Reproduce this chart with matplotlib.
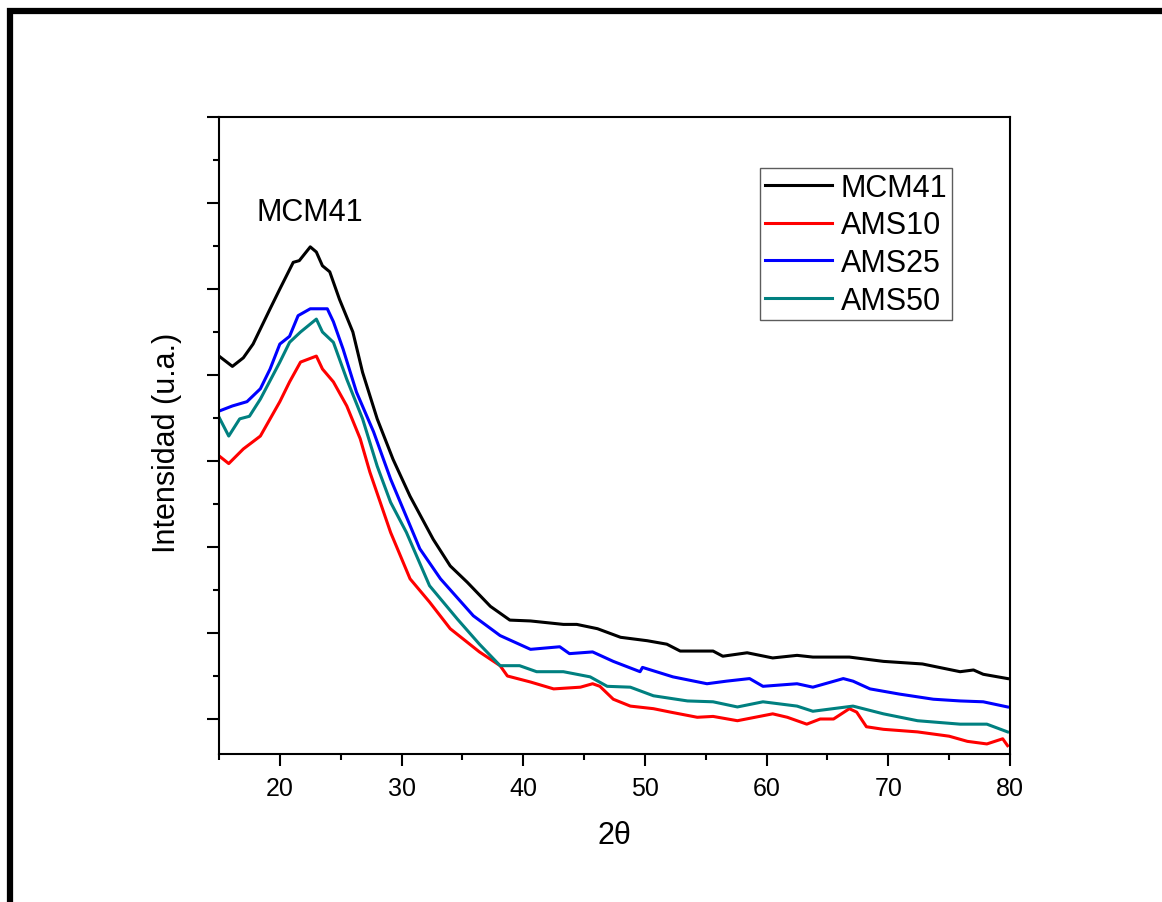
import matplotlib
matplotlib.use("Agg")
import matplotlib.pyplot as plt
from matplotlib.patches import Rectangle
from matplotlib.ticker import MultipleLocator, NullFormatter

plt.rcParams['font.family'] = ['Liberation Sans', 'DejaVu Sans']

# 2theta / intensity (a.u.)
x_mcm41 = [15.0, 16.1, 17.0, 17.8, 19.2, 20.0, 21.1, 21.6, 22.5, 23.0, 23.5, 24.1, 24.9,
           26.0, 26.8, 28.0, 29.3, 30.7, 32.6, 34.0, 35.4, 37.3, 38.9, 40.6, 43.3, 44.4,
           46.1, 48.0, 50.2, 51.8, 52.9, 55.6, 56.4, 58.4, 60.5, 62.5, 63.8, 66.8, 69.6,
           72.8, 75.9, 77.0, 77.8, 79.8]
y_mcm41 = [4.22, 4.10, 4.20, 4.36, 4.77, 5.00, 5.31, 5.33, 5.49, 5.43, 5.27, 5.20, 4.88,
           4.50, 4.03, 3.49, 3.02, 2.59, 2.09, 1.78, 1.59, 1.31, 1.15, 1.14, 1.10, 1.10,
           1.05, 0.95, 0.91, 0.87, 0.79, 0.79, 0.73, 0.77, 0.71, 0.74, 0.72, 0.72, 0.67,
           0.64, 0.55, 0.57, 0.52, 0.47]

x_ams10 = [15.0, 15.8, 17.0, 18.4, 19.2, 20.0, 20.8, 21.7, 23.0, 23.5, 24.4, 25.5, 26.6,
           27.4, 29.1, 30.7, 32.3, 34.0, 36.4, 38.1, 38.7, 40.6, 42.5, 44.7, 45.7, 46.3,
           47.4, 48.8, 50.7, 52.1, 54.3, 55.6, 57.6, 60.5, 61.7, 63.3, 64.4, 65.5, 66.8,
           67.4, 68.2, 69.6, 72.4, 75.0, 76.5, 78.1, 79.4, 79.8]
y_ams10 = [3.06, 2.97, 3.14, 3.29, 3.49, 3.69, 3.92, 4.15, 4.22, 4.07, 3.92, 3.64, 3.26,
           2.87, 2.17, 1.63, 1.36, 1.05, 0.78, 0.62, 0.50, 0.43, 0.35, 0.37, 0.41, 0.38,
           0.23, 0.15, 0.12, 0.08, 0.02, 0.03, -0.02, 0.06, 0.02, -0.06, 0.00, 0.00, 0.12,
           0.08, -0.09, -0.12, -0.15, -0.20, -0.26, -0.29, -0.23, -0.31]

x_ams25 = [15.0, 16.1, 17.3, 18.4, 19.2, 20.0, 20.8, 21.5, 22.5, 23.9, 24.4, 25.2, 26.3,
           27.7, 29.1, 31.5, 33.2, 35.9, 38.1, 40.6, 43.0, 43.8, 45.7, 47.4, 49.6, 49.8,
           52.3, 55.1, 56.7, 58.6, 59.7, 62.5, 63.8, 66.3, 67.1, 68.5, 70.9, 73.7, 75.9,
           77.8, 79.8]
y_ams25 = [3.58, 3.64, 3.69, 3.84, 4.07, 4.36, 4.45, 4.69, 4.77, 4.77, 4.62, 4.30, 3.80,
           3.34, 2.79, 1.98, 1.63, 1.20, 0.97, 0.81, 0.84, 0.76, 0.78, 0.67, 0.55, 0.60,
           0.49, 0.41, 0.44, 0.47, 0.38, 0.41, 0.37, 0.47, 0.44, 0.35, 0.29, 0.23, 0.21,
           0.20, 0.14]

x_ams50 = [15.0, 15.8, 16.7, 17.5, 18.4, 20.0, 20.8, 21.7, 23.0, 23.5, 24.4, 25.5, 26.8,
           28.0, 29.1, 30.4, 32.3, 34.6, 36.4, 38.1, 39.7, 41.1, 43.3, 45.5, 46.9, 48.8,
           50.7, 53.5, 55.6, 57.6, 59.7, 62.5, 63.8, 67.1, 69.6, 72.4, 75.9, 78.1, 79.8]
y_ams50 = [3.51, 3.29, 3.49, 3.52, 3.72, 4.15, 4.38, 4.50, 4.65, 4.50, 4.38, 3.95, 3.49,
           2.94, 2.52, 2.17, 1.55, 1.16, 0.87, 0.62, 0.62, 0.55, 0.55, 0.49, 0.38, 0.37,
           0.27, 0.21, 0.20, 0.14, 0.20, 0.15, 0.09, 0.15, 0.06, -0.02, -0.06, -0.06, -0.15]

series = [
    ("MCM41", x_mcm41, y_mcm41, "black"),
    ("AMS10", x_ams10, y_ams10, "#ff0000"),
    ("AMS25", x_ams25, y_ams25, "#0000ff"),
    ("AMS50", x_ams50, y_ams50, "#008080"),
]

fig = plt.figure(figsize=(11.62, 9.03), dpi=100)
W, H = 1162, 903

# thick page frame, only left and top visible
fig.patches.append(Rectangle((10 / W, -0.5), 2, 1.5 - 12 / H, transform=fig.transFigure,
                             fill=False, edgecolor="black", linewidth=4.5))

ax = fig.add_axes([219 / W, 1 - 755 / H, 791 / W, 637 / H])

for name, xs, ys, c in series:
    ax.plot(xs, ys, color=c, lw=2.2, label=name)

ax.set_xlim(15, 80)
ax.set_ylim(-0.407, 7.0)
ax.xaxis.set_major_locator(MultipleLocator(10))
ax.xaxis.set_minor_locator(MultipleLocator(5))
ax.yaxis.set_major_locator(MultipleLocator(1))
ax.yaxis.set_minor_locator(MultipleLocator(0.5))
ax.yaxis.set_major_formatter(NullFormatter())

for sp in ax.spines.values():
    sp.set_linewidth(1.5)
ax.tick_params(which="major", direction="out", length=8.5, width=1.5, labelsize=18, pad=7)
ax.tick_params(which="minor", direction="out", length=4.5, width=1.5)
ax.tick_params(top=False, right=False)

ax.set_xlabel("2θ", fontsize=22)
ax.set_ylabel("Intensidad (u.a.)", fontsize=22)
ax.xaxis.set_label_coords(0.5, -0.104)
ax.yaxis.set_label_coords(-0.047, 0.49)

ax.text(22.5, 5.9, "MCM41", fontsize=22, ha="center", va="center")

leg = ax.legend(loc="upper left", bbox_to_anchor=(760 / W, 1 - 169 / H),
                bbox_transform=fig.transFigure, borderaxespad=0, fontsize=22,
                frameon=True, fancybox=False, handlelength=2.2, handletextpad=0.3,
                labelspacing=0.25, borderpad=0.15)
leg.get_frame().set_edgecolor("#333333")
leg.get_frame().set_linewidth(1.0)

fig.savefig("out.png", dpi=100)
